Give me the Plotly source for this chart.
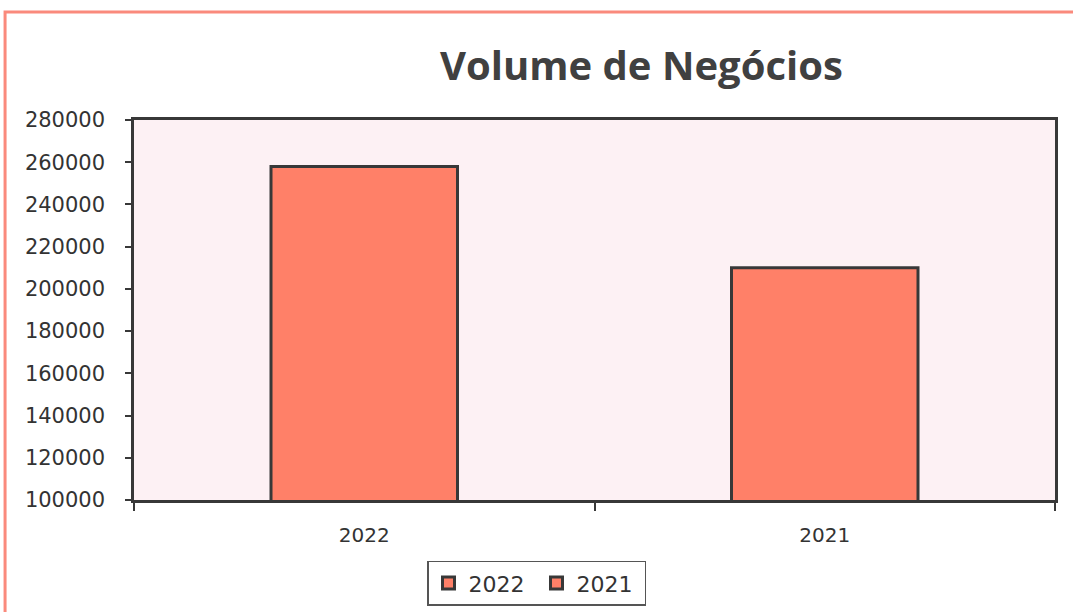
import plotly.graph_objects as go

# data
years = ["2022", "2021"]
volumes = [258000, 210000]
y_ticks = list(range(100000, 280001, 20000))

bar_color = "#ff8068"
edge_color = "#383838"
text_color = "#333333"

fig = go.Figure()
for year, vol in zip(years, volumes):
    fig.add_trace(go.Bar(x=[year], y=[vol], name=year + " ", width=0.405,
                         marker=dict(color=bar_color, line=dict(color=edge_color, width=3))))

fig.update_layout(
    width=1073, height=612,
    margin=dict(l=134, r=18, t=120, b=112, autoexpand=False),
    barmode="overlay",
    paper_bgcolor="white",
    plot_bgcolor="#fdf1f4",
    font=dict(family="DejaVu Sans", size=20, color=text_color),
    showlegend=True,
    legend=dict(orientation="h", xref="container", yref="container", x=0.5, y=0.047,
                xanchor="center", yanchor="middle",
                bordercolor="#555555", borderwidth=1.5, bgcolor="white",
                font=dict(size=22, color=text_color), itemwidth=30),
    annotations=[dict(text="<b>Volume de Negócios</b>", xref="paper", yref="paper",
                      x=0.5505, y=1.145, xanchor="center", yanchor="middle", showarrow=False,
                      font=dict(family="Open Sans", size=40, color="#404040"))],
    shapes=[dict(type="rect", xref="paper", yref="paper", x0=-0.140, x1=1.05, y0=-0.35, y1=1.284,
                 line=dict(color="#fa8a7c", width=3), layer="below")],
)

fig.update_xaxes(showline=True, linecolor=edge_color, linewidth=2.5, mirror=True,
                 ticks="outside", ticklen=8, tickcolor=edge_color, tickwidth=2,
                 tickson="boundaries", showgrid=False, ticklabelstandoff=15)
fig.update_yaxes(range=[100000, 280000], tickvals=y_ticks, tickformat="d", showline=True,
                 linecolor=edge_color, linewidth=2.5, mirror=True, ticks="outside", ticklen=6,
                 tickcolor=edge_color, tickwidth=2, showgrid=False, zeroline=False,
                 ticklabelstandoff=16, tickfont=dict(size=21))

# the page's default body margin shifts the chart, so drop it
fig.write_html("out.html", config={"displayModeBar": False},
               post_script="document.body.style.margin='0';document.body.style.overflow='hidden';")
